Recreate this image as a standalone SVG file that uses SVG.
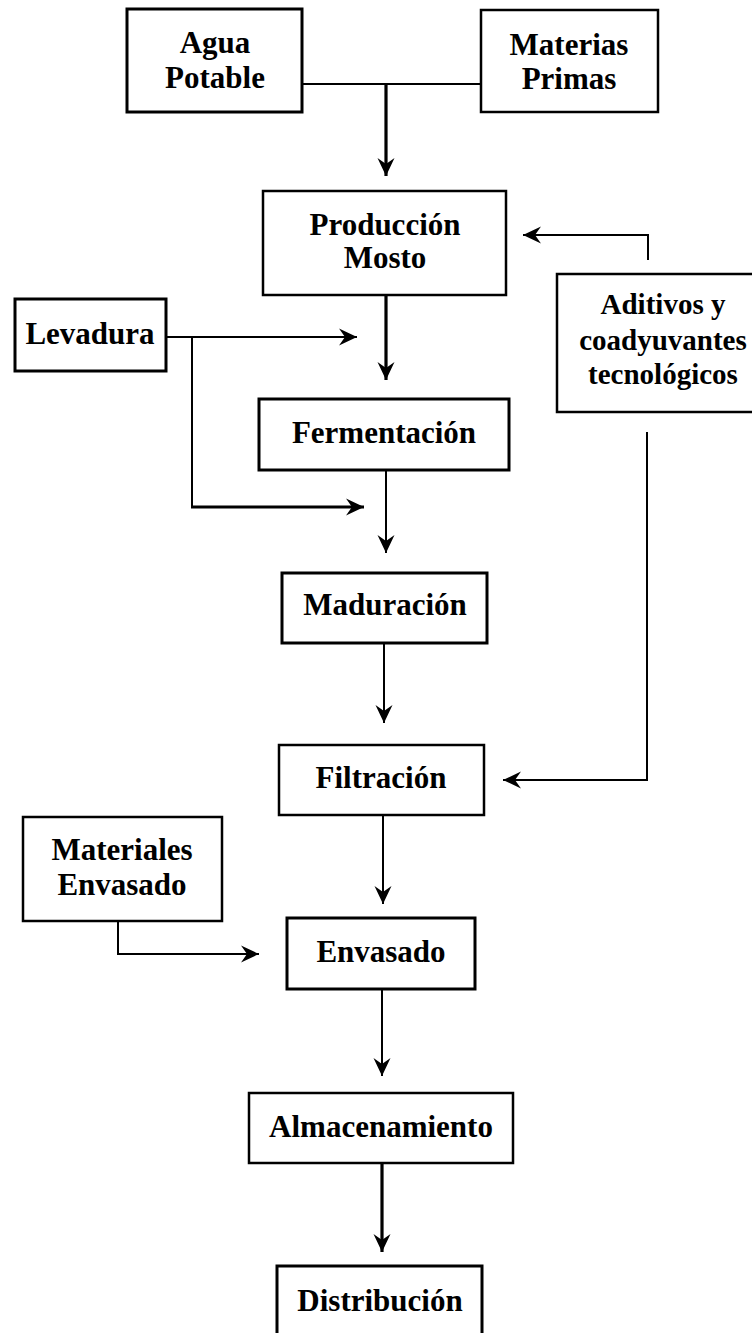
<svg xmlns="http://www.w3.org/2000/svg" width="752" height="1333" viewBox="0 0 752 1333">
<style>
.box{fill:#fff;stroke:#000;stroke-width:2.5}
.t{font-family:"Liberation Serif","Times New Roman",serif;font-weight:bold;font-size:31px;fill:#000;text-anchor:middle}
.s{font-size:29px}
.c{fill:none;stroke:#000;stroke-width:2}
.k{stroke-width:3.2}
</style>
<defs>
<marker id="ah" markerUnits="userSpaceOnUse" markerWidth="20" markerHeight="20" viewBox="0 0 20 20" refX="19" refY="10" orient="auto">
<path d="M19,10 L1,1.5 L7,10 L1,18.5 Z" fill="#000"/>
</marker>
</defs>
<rect width="752" height="1333" fill="#fff"/>
<g id="connectors">
<path class="c" d="M302,84 H481"/>
<path class="c k" d="M386,84 V176" marker-end="url(#ah)"/>
<path class="c" d="M648,260 V235 H523" marker-end="url(#ah)"/>
<path class="c k" d="M386,295 V380" marker-end="url(#ah)"/>
<path class="c" d="M166,337 H357" marker-end="url(#ah)"/>
<path class="c" d="M192,337 V507"/>
<path class="c k" d="M191,507 H364" marker-end="url(#ah)"/>
<path class="c" d="M386,470 V553" marker-end="url(#ah)"/>
<path class="c" d="M384,643 V723" marker-end="url(#ah)"/>
<path class="c" d="M647,432 V780 H503" marker-end="url(#ah)"/>
<path class="c" d="M383,815 V904" marker-end="url(#ah)"/>
<path class="c" d="M118,921 V954 H259" marker-end="url(#ah)"/>
<path class="c" d="M382,989 V1076" marker-end="url(#ah)"/>
<path class="c k" d="M382,1163 V1252" marker-end="url(#ah)"/>
</g>
<g id="agua">
<rect class="box" x="127" y="9" width="175" height="103" style="stroke-width:3"/>
<text class="t" x="215" y="53">Agua</text>
<text class="t" x="215" y="88">Potable</text>
</g>
<g id="materias">
<rect class="box" x="481" y="10" width="177" height="102"/>
<text class="t" x="569" y="55">Materias</text>
<text class="t" x="569" y="89">Primas</text>
</g>
<g id="produccion">
<rect class="box" x="263" y="191" width="243" height="104"/>
<text class="t" x="385" y="235">Producción</text>
<text class="t" x="385" y="268">Mosto</text>
</g>
<g id="levadura">
<rect class="box" x="15" y="299" width="151" height="72" style="stroke-width:3"/>
<text class="t" x="90" y="344">Levadura</text>
</g>
<g id="aditivos">
<rect class="box" x="557" y="274" width="210" height="138"/>
<text class="t s" x="663" y="314">Aditivos y</text>
<text class="t s" x="663" y="350">coadyuvantes</text>
<text class="t s" x="663" y="384">tecnológicos</text>
</g>
<g id="fermentacion">
<rect class="box" x="259" y="399" width="250" height="71" style="stroke-width:3"/>
<text class="t" x="384" y="443">Fermentación</text>
</g>
<g id="maduracion">
<rect class="box" x="282" y="573" width="205" height="70" style="stroke-width:3"/>
<text class="t" x="385" y="615">Maduración</text>
</g>
<g id="filtracion">
<rect class="box" x="279" y="745" width="205" height="70"/>
<text class="t" x="381" y="788">Filtración</text>
</g>
<g id="materiales">
<rect class="box" x="23" y="817" width="199" height="104"/>
<text class="t" x="122" y="860">Materiales</text>
<text class="t" x="122" y="895">Envasado</text>
</g>
<g id="envasado">
<rect class="box" x="287" y="918" width="188" height="71" style="stroke-width:3"/>
<text class="t" x="381" y="962">Envasado</text>
</g>
<g id="almacenamiento">
<rect class="box" x="249" y="1093" width="264" height="70"/>
<text class="t" x="381" y="1137">Almacenamiento</text>
</g>
<g id="distribucion">
<rect class="box" x="277" y="1266" width="205" height="80" style="stroke-width:3"/>
<text class="t" x="380" y="1311">Distribución</text>
</g>
</svg>
